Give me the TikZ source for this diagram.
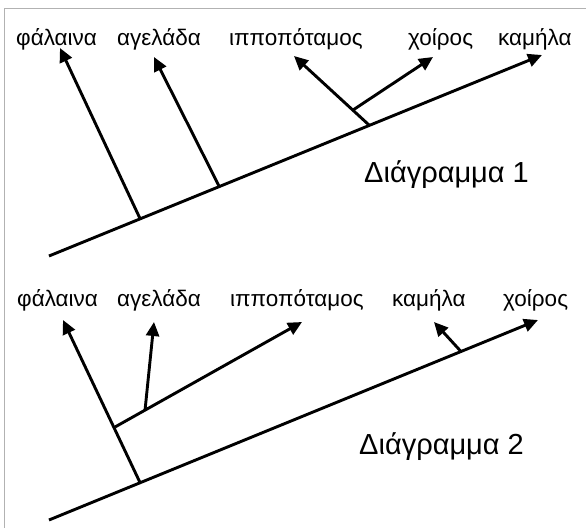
\documentclass[tikz,border=0pt]{standalone}
\usepackage{fontspec}
\setmainfont{Liberation Sans}
\usetikzlibrary{arrows.meta}
\begin{document}
\begin{tikzpicture}[x=1pt,y=-1pt,
  br/.style={line width=2.9pt,-{Triangle[length=14pt,width=13pt]}},
  lbl/.style={anchor=base west,inner sep=0pt,font=\fontsize{22.5}{25}\selectfont},
  ttl/.style={anchor=base west,inner sep=0pt,font=\fontsize{29}{32}\selectfont}]
\useasboundingbox (0,0) rectangle (586,528);
\draw[gray!60,line width=1pt] (586,8) -- (4,8) -- (4,528);
% Diagram 1
\node[lbl] (w1) at (16,45) {φάλαινα};
\node[lbl] (c1) at (117,45) {αγελάδα};
\node[lbl] (h1) at (229,45) {ιπποπόταμος};
\node[lbl] (p1) at (408,45) {χοίρος};
\node[lbl] (k1) at (498,45) {καμήλα};
\node[ttl] (t1) at (364,182) {Διάγραμμα 1};
\coordinate (r1) at (49,256);
\coordinate (a1) at (140,218.5);
\coordinate (b1) at (219,186);
\coordinate (d1) at (369,125);
\coordinate (e1) at (353,110);
\coordinate (ka1) at (542,55);
\coordinate (wa1) at (60,48);
\coordinate (ca1) at (154,57);
\coordinate (ha1) at (294,56);
\coordinate (pa1) at (433,57);
\draw[br] (r1) -- (ka1);
\draw[br] (a1) -- (wa1);
\draw[br] (b1) -- (ca1);
\draw[br] (d1) -- (ha1);
\draw[br] (e1) -- (pa1);
% Diagram 2
\node[lbl] (w2) at (17,306) {φάλαινα};
\node[lbl] (c2) at (117,306) {αγελάδα};
\node[lbl] (h2) at (230,306) {ιπποπόταμος};
\node[lbl] (k2) at (392,306) {καμήλα};
\node[lbl] (p2) at (503,306) {χοίρος};
\node[ttl] (t2) at (359,454) {Διάγραμμα 2};
\coordinate (r2) at (49,520);
\coordinate (a2) at (140,482.5);
\coordinate (m2) at (115,427);
\coordinate (b2) at (145,410.5);
\coordinate (k2b) at (461,351.5);
\coordinate (pa2) at (538,320);
\coordinate (wa2) at (63,320);
\coordinate (ha2) at (302,322);
\coordinate (ca2) at (154,322);
\coordinate (ka2) at (434,322);
\draw[br] (r2) -- (pa2);
\draw[br] (a2) -- (wa2);
\draw[br] (m2) -- (ha2);
\draw[br] (b2) -- (ca2);
\draw[br] (k2b) -- (ka2);
\end{tikzpicture}
\end{document}
